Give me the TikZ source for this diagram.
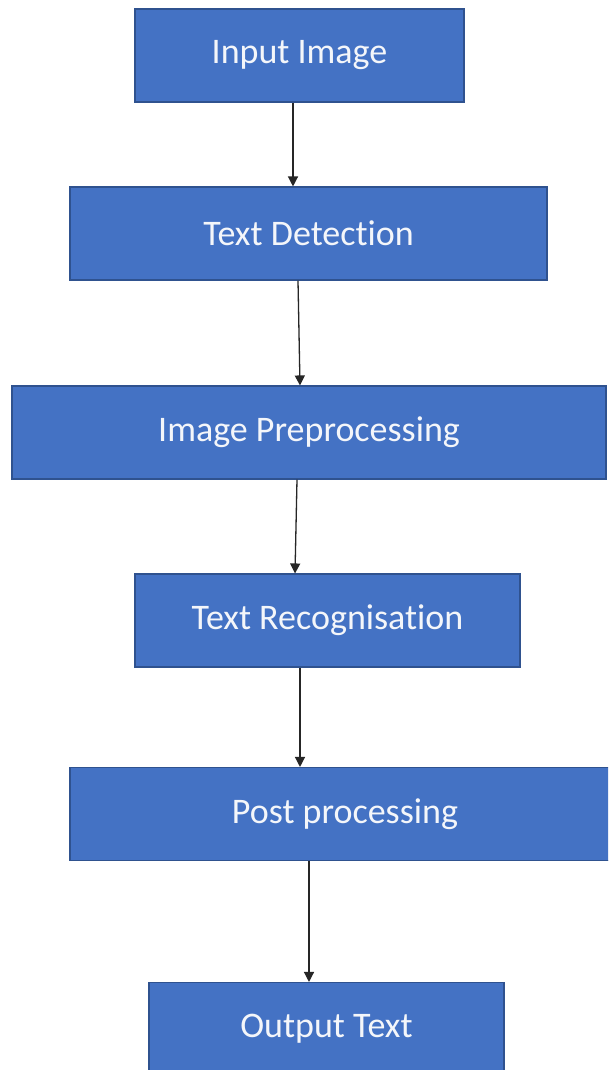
\documentclass[tikz,border=0pt]{standalone}
\usepackage{fontspec}
\setmainfont{Carlito}[Ligatures=NoCommon]
\usetikzlibrary{arrows.meta}
\definecolor{boxfill}{HTML}{4472C4}
\definecolor{boxline}{HTML}{2F528F}
\definecolor{txt}{HTML}{F4F6FA}
\begin{document}
\begin{tikzpicture}[x=1pt,y=-1pt,
  procbox/.style={draw=boxline, line width=1.1pt, fill=boxfill, inner sep=0pt,
    text=txt, font=\fontsize{36}{40}\selectfont, minimum height=93},
  arr/.style={draw=black!85, line width=1.3pt, -{Triangle[width=10pt,length=10pt]}}]
\clip (0,0) rectangle (608,1070);
\fill[white] (0,0) rectangle (608,1070);
\node[procbox, minimum width=329] (in) at (299.5,55.5) {\raisebox{-2pt}{Input Image}};
\node[procbox, minimum width=477] (td) at (308.5,233.5) {Text Detection};
\node[procbox, minimum width=594] (ip) at (309,432.5) {Image Preprocessing};
\node[procbox, minimum width=385] (tr) at (327.5,620.5) {Text Recognisation};
\node[procbox, minimum width=550] (pp) at (345,814) {Post processing};
\node[procbox, minimum width=355] (ot) at (326.5,1029) {Output Text};
\draw[arr] (in.south -| 293,0) -- (td.north -| 293,0);
\draw[arr] (td.south -| 298,0) -- (ip.north -| 300,0);
\draw[arr] (ip.south -| 297,0) -- (tr.north -| 295,0);
\draw[arr] (tr.south -| 300,0) -- (pp.north -| 300,0);
\draw[arr] (pp.south -| 309,0) -- (ot.north -| 309,0);
\end{tikzpicture}
\end{document}
